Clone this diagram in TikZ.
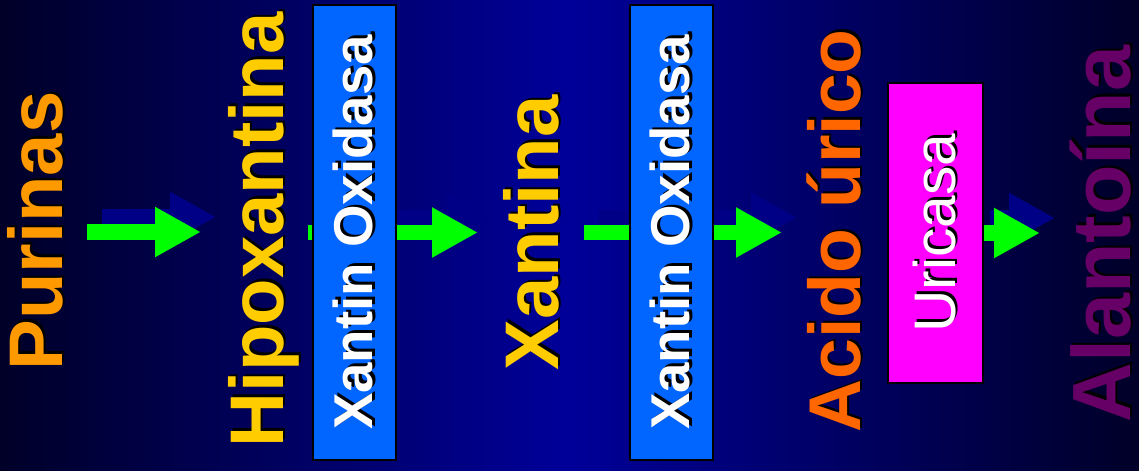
\documentclass[tikz,border=0pt]{standalone}
\usepackage{fontspec}
\setmainfont{Liberation Sans}
\usetikzlibrary{arrows.meta}

\definecolor{fondoborde}{RGB}{0,0,40}
\definecolor{fondocentro}{RGB}{0,0,153}
\definecolor{verdeflecha}{RGB}{0,255,0}
\definecolor{sombraazul}{RGB}{0,0,135}
\definecolor{azulcaja}{RGB}{0,102,255}
\definecolor{magentacaja}{RGB}{255,0,255}
\definecolor{naranjaP}{RGB}{255,153,0}
\definecolor{amarilloX}{RGB}{255,204,0}
\definecolor{naranjaA}{RGB}{255,102,0}
\definecolor{moradoA}{RGB}{102,0,102}

% texto con sombra negra
\newcommand{\sombra}[1]{\rlap{\kern1.9pt\raisebox{-1.9pt}{\color{black}#1}}#1}

\begin{document}
\begin{tikzpicture}[x=0.75pt,y=0.75pt,yscale=-1,xscale=1,
  sustancia/.style={rotate=90, anchor=base, inner sep=0pt, font=\bfseries\fontsize{57}{60}\selectfont},
  enzima/.style={rotate=90, draw=black, line width=1.2pt, inner sep=0pt, text=white},
  flecha/.style={draw=verdeflecha, line width=11.6pt, -{Triangle[length=34.5pt,width=35.25pt]}},
  sombraflecha/.style={flecha, draw=sombraazul, fill=sombraazul}]

%Background
\path[use as bounding box] (0,0) rectangle (1139,471);
\shade[left color=fondoborde, right color=fondoborde, middle color=fondocentro] (0,0) rectangle (1139,471);

% Arrow ends
\coordinate (f1a) at (87,232);
\coordinate (f1b) at (201,232);
\coordinate (f2a) at (308,232.5);
\coordinate (f2b) at (478,232.5);
\coordinate (f3a) at (584,232.5);
\coordinate (f3b) at (782,232.5);
\coordinate (f4a) at (975,233);
\coordinate (f4b) at (1040,233);

%Shadow arrows
\foreach \a/\b in {f1a/f1b, f2a/f2b, f3a/f3b, f4a/f4b}
  \draw[sombraflecha] ([shift={(15,-15)}]\a) -- ([shift={(15,-15)}]\b);
%Right Arrows
\foreach \a/\b in {f1a/f1b, f2a/f2b, f3a/f3b, f4a/f4b}
  \draw[flecha, fill=verdeflecha] (\a) -- (\b);

%Enzyme boxes
\node[enzima, fill=azulcaja, minimum width=341.25pt, minimum height=62.25pt, font=\bfseries\fontsize{41}{43}\selectfont] (xo1) at (354.5,232.5) {\sombra{Xantin Oxidasa}};
\node[enzima, fill=azulcaja, minimum width=341.25pt, minimum height=62.25pt, font=\bfseries\fontsize{41}{43}\selectfont] (xo2) at (671.5,232.5) {\sombra{Xantin Oxidasa}};
\node[enzima, fill=magentacaja, minimum width=225pt, minimum height=71.25pt, font=\fontsize{44}{46}\selectfont] (uricasa) at (935.5,233) {\sombra{Uricasa}};

% Text Nodes
\node[sustancia, text=naranjaP] (purinas) at (62,231) {\sombra{Purinas}};
\node[sustancia, text=amarilloX] (hipox) at (283,230) {\sombra{Hipoxantina}};
\node[sustancia, text=amarilloX] (xantina) at (558,233) {\sombra{Xantina}};
\node[sustancia, text=naranjaA, font=\bfseries\fontsize{55}{57}\selectfont] (acido) at (860,231) {\sombra{Acido úrico}};
\node[sustancia, text=moradoA, font=\bfseries\fontsize{62}{64}\selectfont] (alantoina) at (1130,234) {\sombra{Alantoína}};

\end{tikzpicture}
\end{document}
